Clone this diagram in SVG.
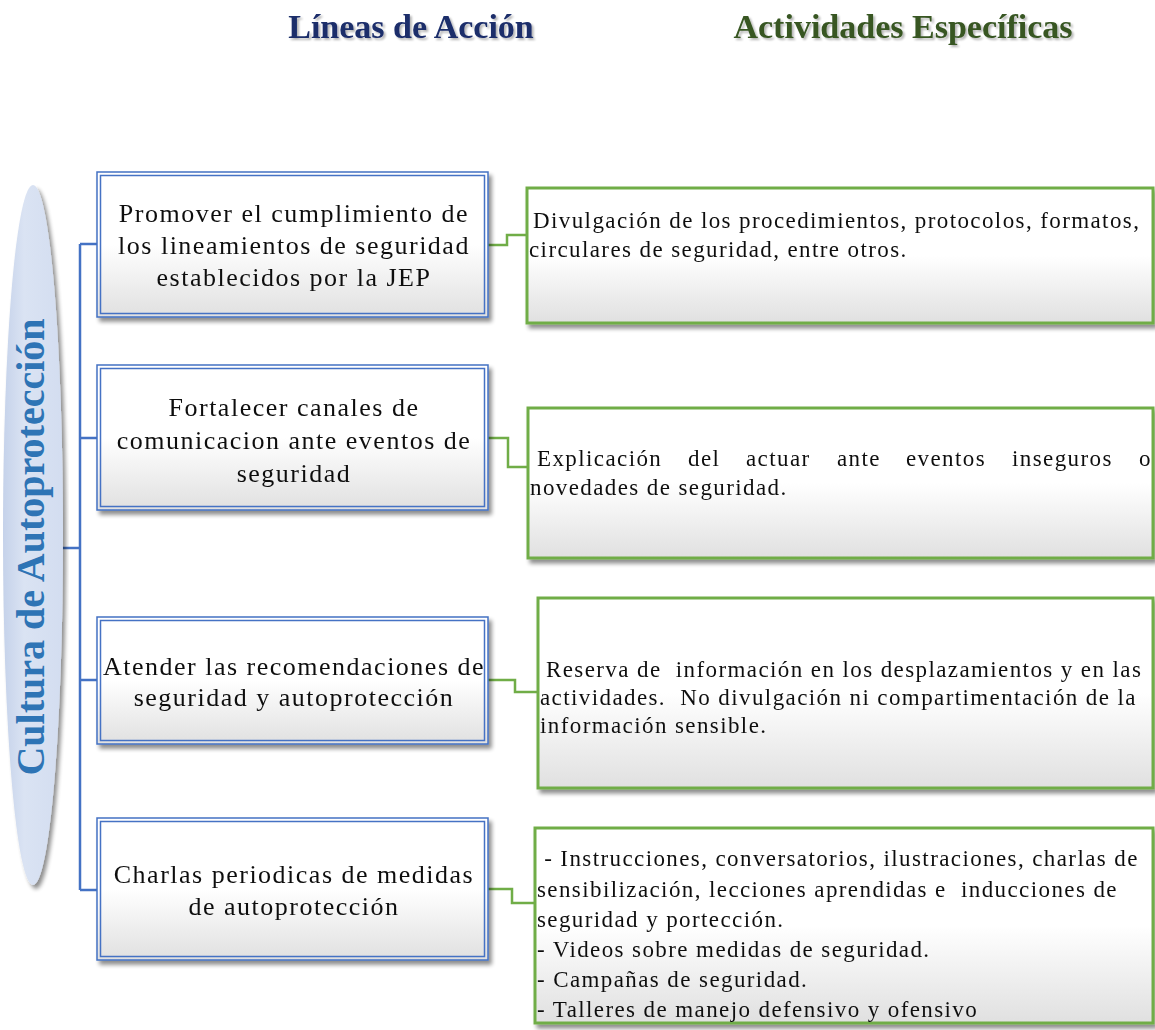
<svg xmlns="http://www.w3.org/2000/svg" width="1155" height="1030" viewBox="0 0 1155 1030">
<defs>
<linearGradient id="boxg" x1="0" y1="0" x2="0" y2="1">
<stop offset="0" stop-color="#ffffff"/><stop offset="0.5" stop-color="#ffffff"/><stop offset="1" stop-color="#e0e0e0"/>
</linearGradient>
<linearGradient id="ellg" x1="0" y1="0" x2="1" y2="0">
<stop offset="0" stop-color="#c5d2ea"/><stop offset="0.35" stop-color="#dae3f3"/><stop offset="1" stop-color="#d3ddf0"/>
</linearGradient>
<filter id="sh" x="-5%" y="-5%" width="115%" height="120%">
<feGaussianBlur in="SourceAlpha" stdDeviation="2"/>
<feOffset dx="3" dy="4" result="o"/>
<feComponentTransfer><feFuncA type="linear" slope="0.45"/></feComponentTransfer>
<feMerge><feMergeNode/><feMergeNode in="SourceGraphic"/></feMerge>
</filter>
<filter id="tsh" x="-5%" y="-20%" width="110%" height="150%">
<feGaussianBlur in="SourceAlpha" stdDeviation="1"/>
<feOffset dx="1.5" dy="1.5" result="o"/>
<feComponentTransfer><feFuncA type="linear" slope="0.3"/></feComponentTransfer>
<feMerge><feMergeNode/><feMergeNode in="SourceGraphic"/></feMerge>
</filter>
</defs>
<style>
.t{font-family:"Liberation Serif","Times New Roman",serif;font-size:26px;letter-spacing:1.5px;fill:#111;text-anchor:middle;}
.g{font-family:"Liberation Serif","Times New Roman",serif;font-size:23px;letter-spacing:1.4px;fill:#111;white-space:pre;}
.title{font-family:"Liberation Serif","Times New Roman",serif;font-weight:bold;font-size:34px;text-anchor:middle;}
.bo{fill:url(#boxg);stroke:#4472c4;stroke-width:1.5;}
.bi{fill:none;stroke:#4472c4;stroke-width:1.5;}
.gb{fill:url(#boxg);stroke:#70ad47;stroke-width:3;}
.bl{fill:none;stroke:#4472c4;stroke-width:2.5;}
.gl{fill:none;stroke:#70ad47;stroke-width:2.5;}
</style>
<rect width="1155" height="1030" fill="#ffffff"/>
<text class="title" x="411" y="38" fill="#1b2d6b" filter="url(#tsh)">Líneas de Acción</text>
<text class="title" x="903" y="38" fill="#375623" filter="url(#tsh)">Actividades Específicas</text>

<g id="connectors">
<path class="bl" d="M60 548 H80 M80 244 V890 M80 244 H97 M80 438 H97 M80 680 H97 M80 890 H97"/>
<path class="gl" d="M488 245 H507 V235 H527"/>
<path class="gl" d="M488 438 H508 V467 H528"/>
<path class="gl" d="M488 680 H515 V692 H538"/>
<path class="gl" d="M488 889 H512 V903 H535"/>
</g>

<g id="root">
<ellipse cx="33" cy="535" rx="30" ry="350" fill="url(#ellg)" filter="url(#sh)"/>
<text transform="translate(44 547) rotate(-90)" text-anchor="middle" font-family="Liberation Serif, serif" font-weight="bold" font-size="40" fill="#2e74b5">Cultura de Autoprotección</text>
</g>

<g id="l1" filter="url(#sh)">
<rect class="bo" x="97" y="172" width="391" height="145"/>
<rect class="bi" x="100.5" y="175.5" width="384" height="138"/>
<text class="t" x="294" y="222">Promover el cumplimiento de</text>
<text class="t" x="294" y="254">los lineamientos de seguridad</text>
<text class="t" x="294" y="286">establecidos por la JEP</text>
</g>
<g id="l2" filter="url(#sh)">
<rect class="bo" x="97" y="365" width="391" height="145"/>
<rect class="bi" x="100.5" y="368.5" width="384" height="138"/>
<text class="t" x="294" y="416">Fortalecer canales de</text>
<text class="t" x="294" y="449">comunicacion ante eventos de</text>
<text class="t" x="294" y="482">seguridad</text>
</g>
<g id="l3" filter="url(#sh)">
<rect class="bo" x="97" y="617" width="391" height="127"/>
<rect class="bi" x="100.5" y="620.5" width="384" height="120"/>
<text class="t" x="294" y="675">Atender las recomendaciones de</text>
<text class="t" x="294" y="706">seguridad y autoprotección</text>
</g>
<g id="l4" filter="url(#sh)">
<rect class="bo" x="97" y="818" width="391" height="142"/>
<rect class="bi" x="100.5" y="821.5" width="384" height="135"/>
<text class="t" x="294" y="883">Charlas periodicas de medidas</text>
<text class="t" x="294" y="915">de autoprotección</text>
</g>

<g id="a1" filter="url(#sh)">
<rect class="gb" x="527" y="188" width="626" height="135"/>
<text class="g" x="533" y="228">Divulgación de los procedimientos, protocolos, formatos,</text>
<text class="g" x="529" y="257">circulares de seguridad, entre otros.</text>
</g>
<g id="a2" filter="url(#sh)">
<rect class="gb" x="528" y="408" width="625" height="150"/>
<text class="g" y="466"><tspan x="537">Explicación</tspan><tspan x="688">del</tspan><tspan x="746">actuar</tspan><tspan x="837">ante</tspan><tspan x="906">eventos</tspan><tspan x="1012">inseguros</tspan><tspan x="1139">o</tspan></text>
<text class="g" x="530" y="495">novedades de seguridad.</text>
</g>
<g id="a3" filter="url(#sh)">
<rect class="gb" x="538" y="598" width="615" height="190"/>
<text class="g" x="546" y="677">Reserva de  información en los desplazamientos y en las</text>
<text class="g" x="540" y="705">actividades.  No divulgación ni compartimentación de la</text>
<text class="g" x="540" y="733">información sensible.</text>
</g>
<g id="a4" filter="url(#sh)">
<rect class="gb" x="535" y="828" width="618" height="195"/>
<text class="g" x="537" y="866"> - Instrucciones, conversatorios, ilustraciones, charlas de</text>
<text class="g" x="537" y="897">sensibilización, lecciones aprendidas e  inducciones de</text>
<text class="g" x="537" y="927">seguridad y portección.</text>
<text class="g" x="537" y="957">- Videos sobre medidas de seguridad.</text>
<text class="g" x="537" y="987">- Campañas de seguridad.</text>
<text class="g" x="537" y="1017">- Talleres de manejo defensivo y ofensivo</text>
</g>
</svg>
